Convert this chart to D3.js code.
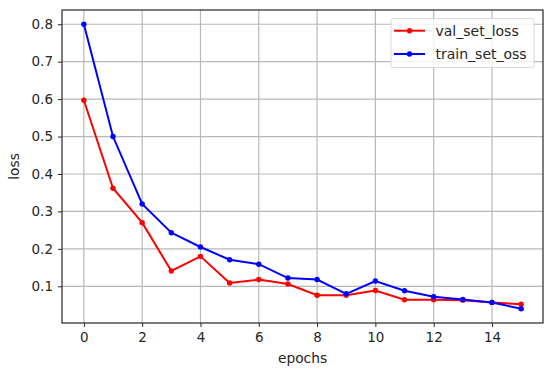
<!DOCTYPE html>
<html><head><meta charset="utf-8">
<script src="https://cdn.jsdelivr.net/npm/d3@7"></script>
<style>body{margin:0;background:#fff}svg{display:block}text{font-family:"DejaVu Sans",sans-serif}</style>
</head><body>
<svg id="c" width="550" height="376"></svg>
<script>
const epochs = [0,1,2,3,4,5,6,7,8,9,10,11,12,13,14,15];
const valLoss = [0.597,0.362,0.270,0.141,0.180,0.109,0.118,0.106,0.076,0.076,0.089,0.064,0.064,0.063,0.057,0.052];
const trainLoss = [0.800,0.500,0.320,0.243,0.205,0.171,0.159,0.122,0.118,0.080,0.114,0.088,0.072,0.065,0.057,0.040];
const xTicks = [0,2,4,6,8,10,12,14];
const yTicks = [0.1,0.2,0.3,0.4,0.5,0.6,0.7,0.8];
const seriesNames = ["val_set_loss","train_set_oss"];
const seriesColors = ["#ff0000","#0000ff"];

const svg = d3.select("#c");
const L=62, R=543, T=10, B=323;
const x = d3.scaleLinear().domain([-0.75,15.75]).range([L,R]);
const y = d3.scaleLinear().domain([0.002,0.838]).range([B,T]);
const gridC="#b8b8b8", txtC="#262626";

// grid
svg.append("g").selectAll("line").data(xTicks).join("line")
  .attr("x1",d=>x(d)).attr("x2",d=>x(d)).attr("y1",T).attr("y2",B)
  .attr("stroke",gridC).attr("stroke-width",1.2);
svg.append("g").selectAll("line").data(yTicks).join("line")
  .attr("y1",d=>y(d)).attr("y2",d=>y(d)).attr("x1",L).attr("x2",R)
  .attr("stroke",gridC).attr("stroke-width",1.2);

// axes
const xa = svg.append("g").attr("transform",`translate(0,${B})`)
  .call(d3.axisBottom(x).tickValues(xTicks).tickFormat(d3.format("d")).tickSize(4).tickPadding(5));
const ya = svg.append("g").attr("transform",`translate(${L},0)`)
  .call(d3.axisLeft(y).tickValues(yTicks).tickFormat(d3.format(".1f")).tickSize(4).tickPadding(5));
[xa,ya].forEach(g=>{
  g.select(".domain").remove();
  g.selectAll("line").attr("stroke",txtC);
  g.selectAll("text").attr("fill",txtC).style("font-size","13.5px").style("font-family","DejaVu Sans");
});

// frame
svg.append("rect").attr("x",L).attr("y",T).attr("width",R-L).attr("height",B-T)
  .attr("fill","none").attr("stroke",txtC).attr("stroke-width",1.2);

// lines
const data = [valLoss, trainLoss];
const line = d3.line().x((d,i)=>x(epochs[i])).y(d=>y(d));
data.forEach((s,k)=>{
  svg.append("path").datum(s).attr("d",line).attr("fill","none")
    .attr("stroke",seriesColors[k]).attr("stroke-width",2);
  svg.append("g").selectAll("circle").data(s).join("circle")
    .attr("cx",(d,i)=>x(epochs[i])).attr("cy",d=>y(d)).attr("r",2.7)
    .attr("fill",seriesColors[k]);
});

// legend
const lg = svg.append("g");
lg.append("rect").attr("x",391).attr("y",18.5).attr("width",143).attr("height",49).attr("rx",2)
  .attr("fill","#fff").attr("fill-opacity",0.8).attr("stroke","#d9d9d9");
seriesNames.forEach((n,k)=>{
  const yy = 30.7 + k*23.3;
  lg.append("line").attr("x1",394).attr("x2",425).attr("y1",yy).attr("y2",yy)
    .attr("stroke",seriesColors[k]).attr("stroke-width",2);
  lg.append("circle").attr("cx",409.5).attr("cy",yy).attr("r",2.7).attr("fill",seriesColors[k]);
  lg.append("text").attr("x",435.5).attr("y",yy).attr("dy","0.35em").attr("fill",txtC)
    .style("font-size","14px").text(n);
});

// axis labels
svg.append("text").attr("x",(L+R)/2).attr("y",363).attr("text-anchor","middle")
  .attr("fill",txtC).style("font-size","13.8px").text("epochs");
svg.append("text").attr("transform",`translate(19,${(T+B)/2}) rotate(-90)`).attr("text-anchor","middle")
  .attr("fill",txtC).style("font-size","13.8px").text("loss");
</script>
</body></html>
